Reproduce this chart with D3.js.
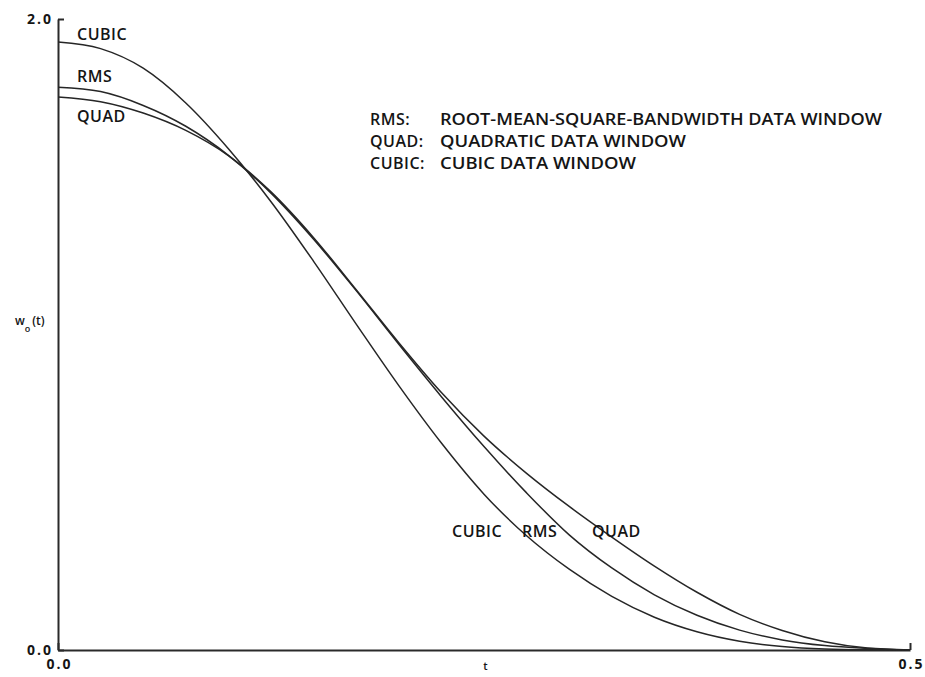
<!DOCTYPE html>
<html>
<head>
<meta charset="utf-8">
<script src="https://cdn.jsdelivr.net/npm/d3@7"></script>
<style>
  html, body { margin: 0; padding: 0; background: #fff; }
  svg { display: block; }
  text { font-family: "Open Sans", "DejaVu Sans", sans-serif; fill: #151515; }
</style>
</head>
<body>
<svg id="chart" width="925" height="677"></svg>
<script>
// ---- data ----
const tValues = [0, 0.025, 0.05, 0.075, 0.1, 0.125, 0.15, 0.175, 0.2, 0.225, 0.25,
                 0.275, 0.3, 0.325, 0.35, 0.375, 0.4, 0.425, 0.45, 0.475, 0.5];
const cubicValues = [1.927, 1.906, 1.844, 1.734, 1.589, 1.421, 1.232, 1.033, 0.838, 0.656, 0.494,
                     0.362, 0.256, 0.170, 0.104, 0.058, 0.028, 0.011, 0.003, 0.0005, 0];
const rmsValues   = [1.784, 1.770, 1.726, 1.660, 1.568, 1.448, 1.302, 1.139, 0.969, 0.803, 0.645,
                     0.498, 0.365, 0.260, 0.175, 0.110, 0.063, 0.032, 0.014, 0.005, 0];
const quadValues  = [1.753, 1.738, 1.702, 1.647, 1.567, 1.452, 1.307, 1.142, 0.974, 0.816, 0.678,
                     0.560, 0.455, 0.358, 0.266, 0.183, 0.113, 0.062, 0.026, 0.006, 0];
const xTicks = [0, 0.5];
const yTicks = [0, 2.0];
const legendKeys = ["RMS:", "QUAD:", "CUBIC:"];
const legendTexts = ["ROOT-MEAN-SQUARE-BANDWIDTH DATA WINDOW", "QUADRATIC DATA WINDOW", "CUBIC DATA WINDOW"];
const seriesNames = ["CUBIC", "RMS", "QUAD"];

// ---- layout ----
const svg = d3.select("#chart");
const m = { left: 58, right: 15, top: 19, bottom: 27 };
const W = 925, H = 677;
const x = d3.scaleLinear().domain([0, 0.5]).range([m.left, W - m.right]);
const y = d3.scaleLinear().domain([0, 2.0]).range([H - m.bottom, m.top]);

svg.append("rect").attr("width", W).attr("height", H).attr("fill", "#fff");

// axes
const xAxis = d3.axisBottom(x).tickValues(xTicks).tickFormat(d3.format(".1f"))
  .tickSizeInner(-7).tickSizeOuter(0).tickPadding(9);
const yAxis = d3.axisLeft(y).tickValues(yTicks).tickFormat(d3.format(".1f"))
  .tickSizeInner(-6).tickSizeOuter(0).tickPadding(5);

const gx = svg.append("g").attr("transform", `translate(0,${y(0)})`).call(xAxis);
const gy = svg.append("g").attr("transform", `translate(${x(0)},0)`).call(yAxis);
[gx, gy].forEach(g => {
  g.select(".domain").attr("stroke", "#2a2a2a").attr("stroke-width", 2);
  g.selectAll(".tick line").attr("stroke", "#2a2a2a").attr("stroke-width", 2);
  g.selectAll(".tick text")
    .style("font-family", '"Open Sans", sans-serif')
    .style("font-weight", 700)
    .style("font-size", "14px")
    .style("letter-spacing", "2px")
    .attr("fill", "#151515");
});
gx.selectAll(".tick text").attr("dx", "1px");

// axis titles
svg.append("text").attr("x", x(0.2508)).attr("y", 670)
  .attr("text-anchor", "middle").style("font-size", "11px").style("font-weight", 600).text("t");
const yl = svg.append("text").attr("x", 15).attr("y", 325)
  .style("font-size", "12px").style("font-weight", 600);
yl.append("tspan").text("w");
yl.append("tspan").attr("dy", 7).style("font-size", "9px").text("o");
yl.append("tspan").attr("dy", -7).attr("dx", 2).text("(t)");

// curves
const line = d3.line().x((d, i) => x(tValues[i])).y(d => y(d)).curve(d3.curveMonotoneX);
[cubicValues, rmsValues, quadValues].forEach(vals => {
  svg.append("path").datum(vals)
    .attr("d", line)
    .attr("fill", "none")
    .attr("stroke", "#262626")
    .attr("stroke-width", 1.5);
});

// curve labels
const labStyle = sel => sel.style("font-size", "16px").style("font-weight", 600).style("letter-spacing", "0.5px");
const topLabels = [[77, 40], [77, 82], [77, 122]];
seriesNames.forEach((n, i) => {
  svg.append("text").attr("x", topLabels[i][0]).attr("y", topLabels[i][1]).call(labStyle).text(n);
});
const botLabels = [[452, 537], [522, 537], [592, 537]];
seriesNames.forEach((n, i) => {
  svg.append("text").attr("x", botLabels[i][0]).attr("y", botLabels[i][1]).call(labStyle).text(n);
});

// legend
const legY = [125, 147, 169];
const legLen = [442, 246, 196];
legendKeys.forEach((k, i) => {
  svg.append("text").attr("x", 370).attr("y", legY[i]).call(labStyle).text(k);
  svg.append("text").attr("x", 440).attr("y", legY[i]).call(labStyle)
    .style("letter-spacing", null)
    .attr("textLength", legLen[i]).attr("lengthAdjust", "spacingAndGlyphs")
    .text(legendTexts[i]);
});
</script>
</body>
</html>
